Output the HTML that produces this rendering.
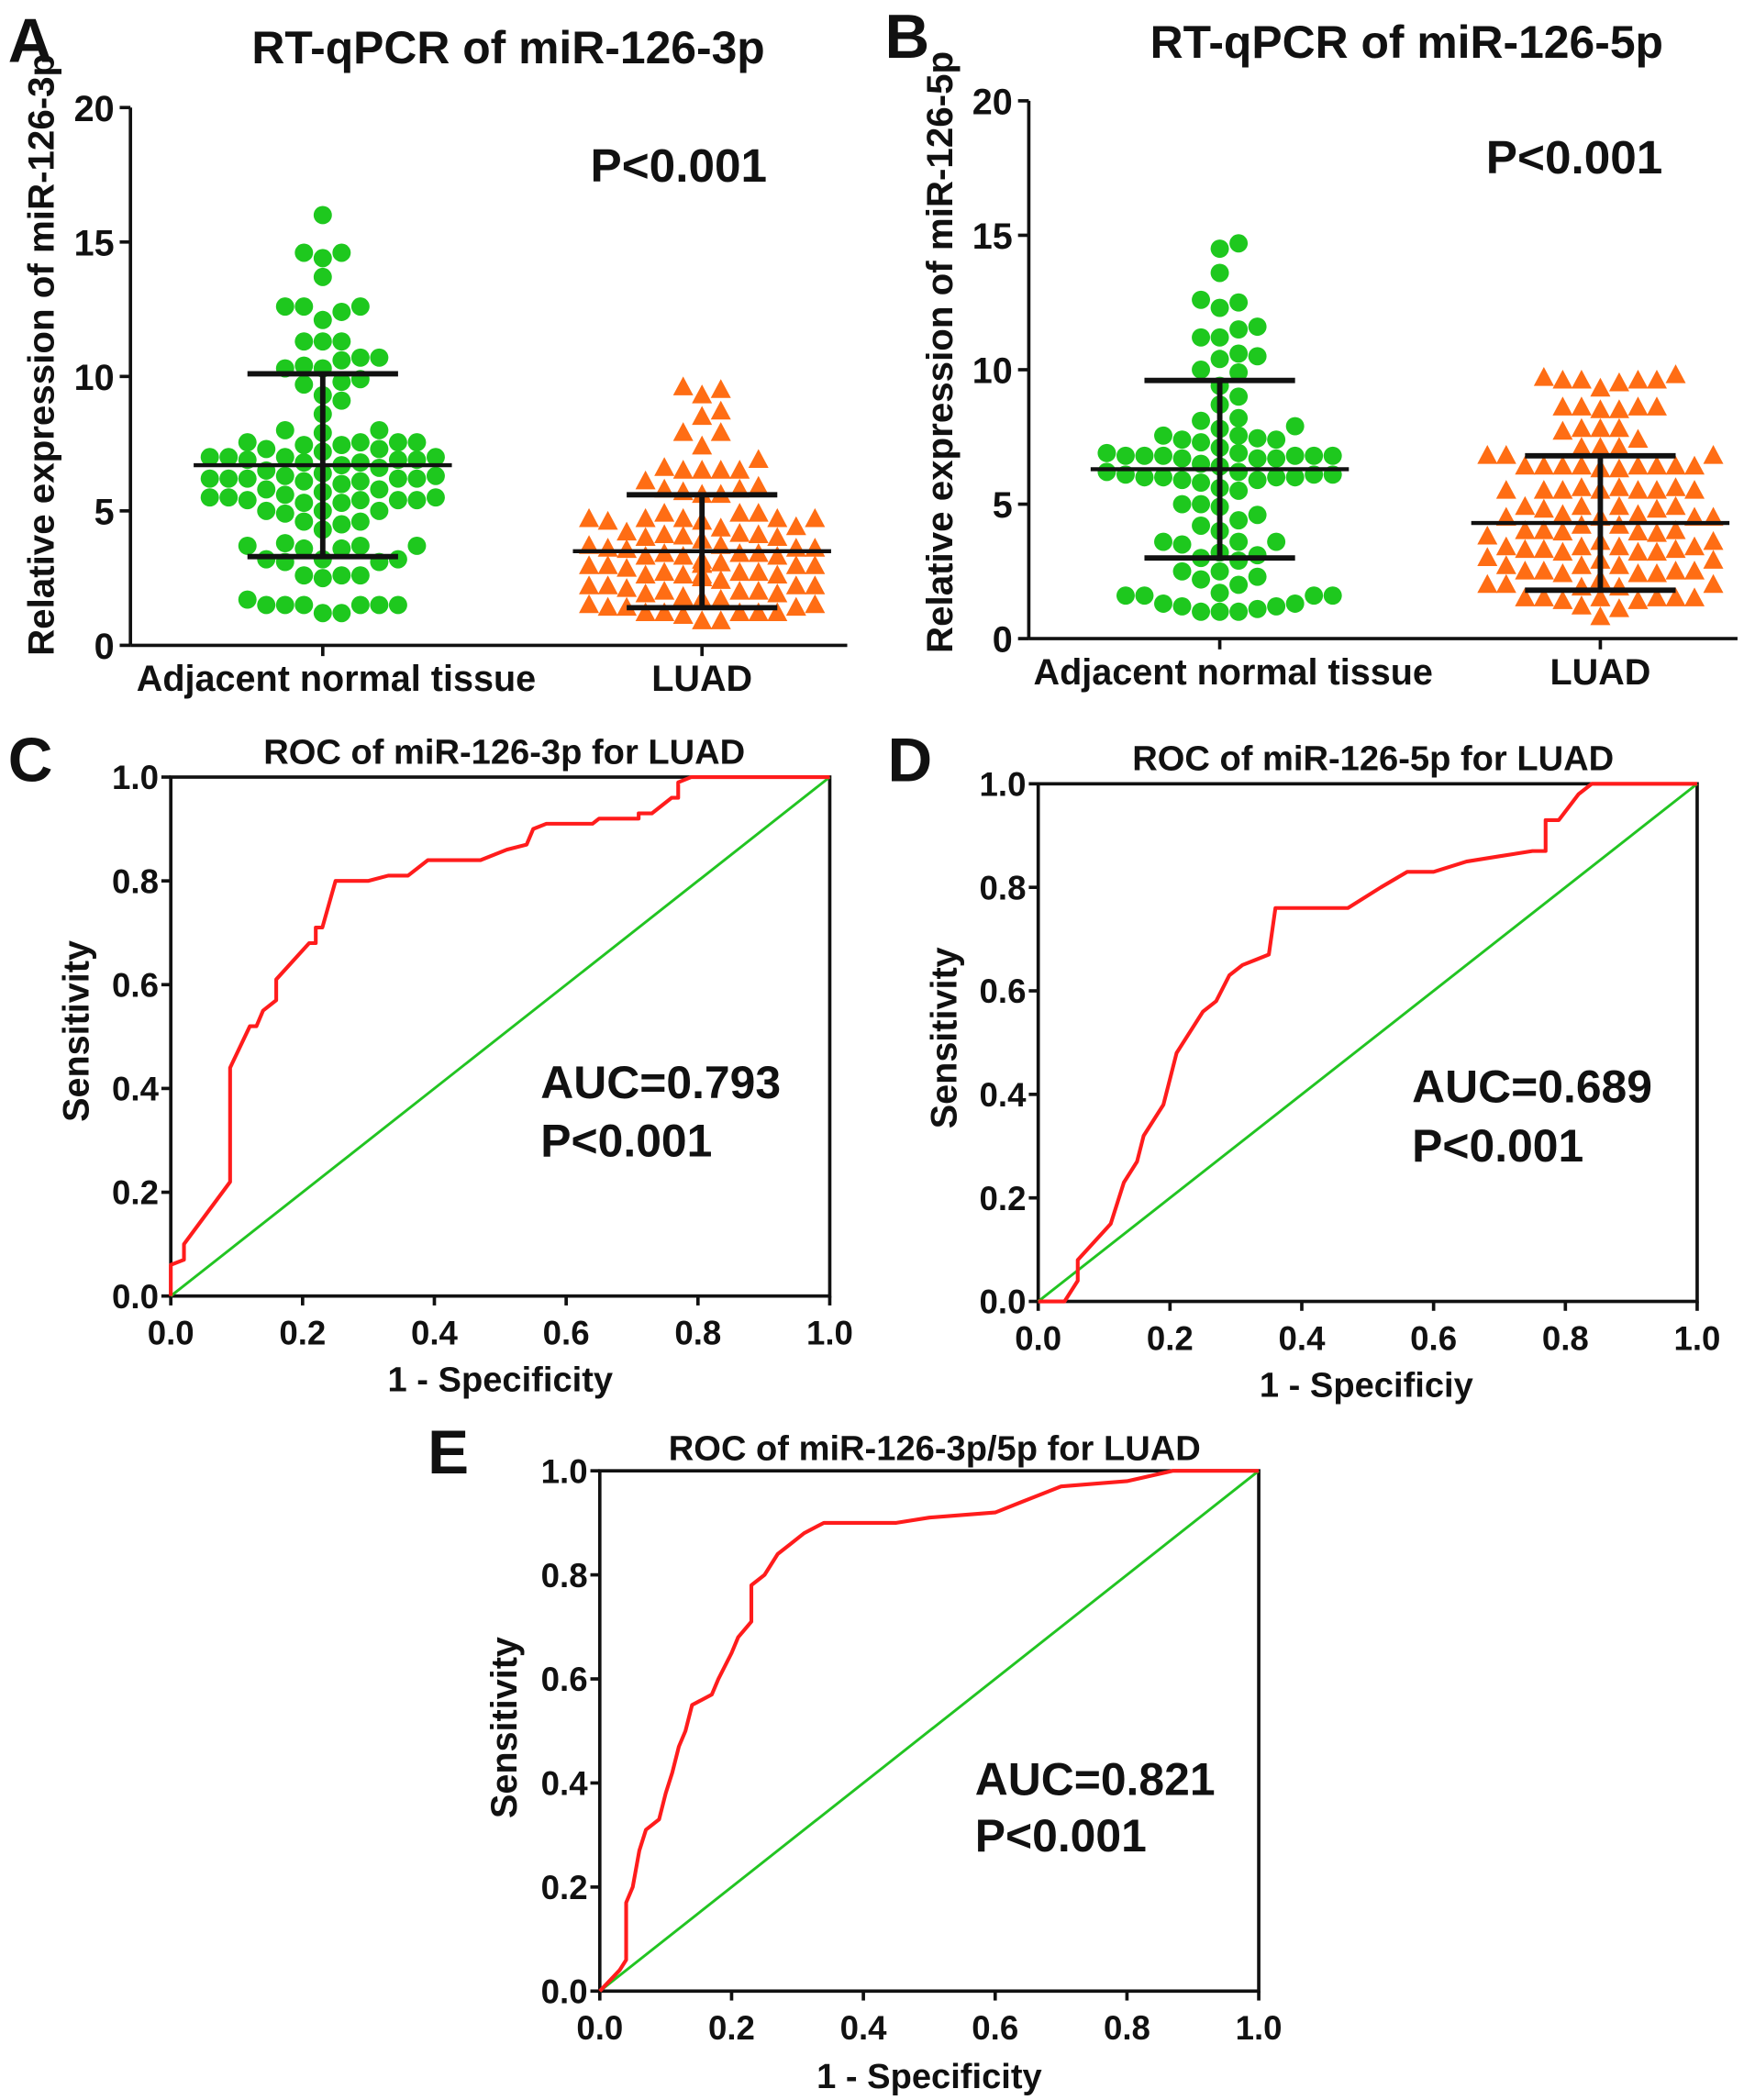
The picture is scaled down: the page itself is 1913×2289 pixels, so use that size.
<!DOCTYPE html>
<html><head><meta charset="utf-8"><style>
html,body{margin:0;padding:0;background:#fff;}
svg{display:block;}
text{font-family:"Liberation Sans",Arial,sans-serif;font-weight:bold;fill:#111;}
</style></head><body>
<svg id="fig" width="1913" height="2289" viewBox="0 0 1305 1562" preserveAspectRatio="none" xmlns="http://www.w3.org/2000/svg">
<rect width="1305" height="1562" fill="#fff"/>
<text x="6" y="46" font-size="46">A</text>
<text x="658" y="43" font-size="46">B</text>
<text x="6" y="581" font-size="46">C</text>
<text x="660" y="581" font-size="46">D</text>
<text x="318" y="1096" font-size="46">E</text>
<text x="378" y="47" font-size="34" text-anchor="middle">RT-qPCR of miR-126-3p</text>
<text x="1046" y="43" font-size="34" text-anchor="middle">RT-qPCR of miR-126-5p</text>
<text x="375" y="568" font-size="26" text-anchor="middle">ROC of miR-126-3p for LUAD</text>
<text x="1021" y="573" font-size="26" text-anchor="middle">ROC of miR-126-5p for LUAD</text>
<text x="695" y="1086" font-size="26" text-anchor="middle">ROC of miR-126-3p/5p for LUAD</text>
<text x="439" y="135" font-size="35">P&lt;0.001</text>
<text x="1105" y="129" font-size="35">P&lt;0.001</text>
<text x="402" y="817" font-size="34">AUC=0.793</text>
<text x="402" y="860" font-size="34">P&lt;0.001</text>
<text x="1050" y="820" font-size="34">AUC=0.689</text>
<text x="1050" y="864" font-size="34">P&lt;0.001</text>
<text x="725" y="1335" font-size="34">AUC=0.821</text>
<text x="725" y="1377" font-size="34">P&lt;0.001</text>
<text transform="translate(40,264) rotate(-90)" font-size="27.5" text-anchor="middle">Relative expression of miR-126-3p</text>
<text transform="translate(708,262) rotate(-90)" font-size="27.5" text-anchor="middle">Relative expression of miR-126-5p</text>
<text transform="translate(66,767) rotate(-90)" font-size="27" text-anchor="middle">Sensitivity</text>
<text transform="translate(711,772) rotate(-90)" font-size="27" text-anchor="middle">Sensitivity</text>
<text transform="translate(384,1285) rotate(-90)" font-size="27" text-anchor="middle">Sensitivity</text>
<text x="372" y="1035" font-size="26" text-anchor="middle">1 - Specificity</text>
<text x="1016" y="1039" font-size="26" text-anchor="middle">1 - Specificiy</text>
<text x="691" y="1553" font-size="26" text-anchor="middle">1 - Specificity</text>
</svg>
<script>
// ---- data ----
const catLabels = ["Adjacent normal tissue","LUAD"];
const yTicksScatter = [0,5,10,15,20];
const rocTicks = [0.0,0.2,0.4,0.6,0.8,1.0];
const rocTickLabels = ["0.0","0.2","0.4","0.6","0.8","1.0"];

const a_normal = [16,14.6,14.6,14.4,13.7,12.6,12.6,12.6,12.4,12.1,11.3,11.3,11.3,10.7,10.6,10.7,10.4,10.3,10.3,9.8,9.9,9.7,9.3,9.1,8.6,8.0,7.9,8.0,
 7.0,7.0,6.9,6.9,7.0,6.8,6.8,6.7,6.7,6.9,6.6,6.6,6.8,7.0,6.9,6.7,6.6,6.8,
 6.3,6.2,6.1,6.0,6.0,6.3,6.2,6.0,6.1,5.9,5.9,6.2,5.8,6.0,5.8,
 5.5,5.4,5.4,5.6,5.5,5.4,5.3,5.5,5.6,5.3,5.4,5.5,
 5.0,5.0,4.9,5.0,4.6,4.6,4.5,4.3,3.7,3.7,3.6,3.7,3.6,3.8,3.2,3.2,3.1,3.2,3.1,2.6,2.6,2.5,2.6,1.7,1.5,1.5,1.5,1.5,1.5,1.5,1.2,1.2];
const a_luad = [9.6,9.5,9.3,8.7,8.5,7.9,7.9,7.4,6.9,6.6,6.5,6.5,6.5,6.5,6.1,5.8,5.7,5.9,5.8,5.6,5.6,
 4.7,4.7,4.7,4.7,4.7,4.6,4.7,4.7,4.6,4.7,4.0,
 3.8,3.7,3.6,3.5,3.4,3.8,3.6,3.5,3.4,3.7,3.5,3.4,3.6,3.5,
 3.0,3.0,3.0,2.9,3.0,3.0,2.9,3.0,3.0,2.9,
 2.6,2.5,2.4,2.3,2.2,2.6,2.5,2.4,2.3,2.2,2.6,2.5,2.4,2.3,2.2,2.5,2.4,2.3,2.2,2.1,
 1.8,1.7,1.6,1.5,1.4,1.8,1.7,1.6,1.5,1.4,1.8,1.7,1.6,1.5,1.4,1.8,1.6,1.5,
 1.2,1.2,1.2,1.1,1.2,1.2,0.9,0.9];
const b_normal = [14.7,14.5,13.6,12.6,12.5,12.3,11.6,11.5,11.2,11.2,10.6,10.5,10.4,10.0,9.9,9.4,9.0,8.7,8.2,8.1,7.8,7.9,
 7.0,7.0,6.9,6.9,7.0,6.8,6.8,6.7,6.9,6.8,7.0,6.9,6.8,6.7,6.9,6.8,6.7,6.8,
 6.2,6.1,6.0,6.3,6.2,6.0,6.1,5.9,6.0,6.2,5.9,6.1,5.8,6.0,
 5.6,5.5,5.0,5.0,4.9,4.6,4.4,4.2,4.0,3.6,3.6,3.6,3.5,3.1,3.0,3.2,2.9,2.5,2.5,2.3,2.2,2.0,
 1.7,1.6,1.6,1.6,1.6,1.3,1.3,1.2,1.2,1.1,1.0,1.0,1.0];
const b_luad = [9.8,9.7,9.6,9.6,9.6,9.6,9.5,9.3,8.6,8.6,8.6,8.5,8.5,8.6,7.8,7.8,7.8,7.7,7.4,
 6.9,6.9,6.8,6.8,6.9,6.8,6.4,6.4,6.4,6.4,6.3,6.4,6.4,6.3,6.4,6.4,
 5.5,5.5,5.6,5.5,5.5,5.6,5.5,5.5,5.6,5.5,
 4.9,4.9,4.8,4.9,4.9,4.8,4.5,4.5,4.6,4.5,4.5,4.6,
 4.0,4.0,4.0,3.9,4.0,4.0,3.4,3.4,3.4,3.3,3.4,3.4,3.3,3.4,3.4,3.3,3.4,3.4,
 3.0,3.0,2.9,3.0,3.0,2.9,2.5,2.5,2.4,2.5,2.5,2.4,2.5,2.5,2.4,2.5,
 2.0,2.0,1.9,2.0,2.0,1.9,1.5,1.5,1.4,1.5,1.5,1.4,1.5,1.5,1.2,1.1,0.8];
// mean, lower SD, upper SD
const a_normalStats = [6.7,3.3,10.1];
const a_luadStats = [3.5,1.4,5.6];
const b_normalStats = [6.3,3.0,9.6];
const b_luadStats = [4.3,1.8,6.8];

const c_fpr = [0,0,0.02,0.02,0.09,0.09,0.12,0.13,0.14,0.16,0.16,0.21,0.22,0.22,0.23,0.25,0.30,0.33,0.36,0.39,0.47,0.51,0.54,0.55,0.57,0.64,0.65,0.71,0.71,0.73,0.76,0.77,0.77,0.79,1];
const c_tpr = [0,0.06,0.07,0.10,0.22,0.44,0.52,0.52,0.55,0.57,0.61,0.68,0.68,0.71,0.71,0.80,0.80,0.81,0.81,0.84,0.84,0.86,0.87,0.90,0.91,0.91,0.92,0.92,0.93,0.93,0.96,0.96,0.99,1,1];
const d_fpr = [0,0.04,0.06,0.06,0.11,0.13,0.15,0.16,0.19,0.20,0.21,0.25,0.27,0.29,0.31,0.33,0.35,0.36,0.47,0.52,0.56,0.60,0.65,0.70,0.75,0.77,0.77,0.79,0.82,0.84,1];
const d_tpr = [0,0,0.04,0.08,0.15,0.23,0.27,0.32,0.38,0.43,0.48,0.56,0.58,0.63,0.65,0.66,0.67,0.76,0.76,0.80,0.83,0.83,0.85,0.86,0.87,0.87,0.93,0.93,0.98,1,1];
const e_fpr = [0,0.03,0.04,0.04,0.05,0.06,0.07,0.09,0.10,0.11,0.12,0.13,0.14,0.17,0.18,0.20,0.21,0.23,0.23,0.25,0.27,0.29,0.31,0.34,0.45,0.50,0.60,0.64,0.70,0.80,0.87,1];
const e_tpr = [0,0.04,0.06,0.17,0.20,0.27,0.31,0.33,0.38,0.42,0.47,0.50,0.55,0.57,0.60,0.65,0.68,0.71,0.78,0.80,0.84,0.86,0.88,0.90,0.90,0.91,0.92,0.94,0.97,0.98,1,1];

// ---- drawing ----
const NS="http://www.w3.org/2000/svg";
const svg=document.getElementById('fig');
function mk(tag,attrs){const e=document.createElementNS(NS,tag);for(const k in attrs)e.setAttribute(k,attrs[k]);svg.appendChild(e);return e;}

function scatterPanel(p,ox,y0,y20,xEnd,cx1,cx2,normal,luad,nStats,lStats){
  const ys=v=>y0+(y20-y0)*v/20;
  let e=mk('line',{x1:ox,y1:y20,x2:ox,y2:y0,stroke:'#111','stroke-width':2.5});
  
  
  e=mk('line',{x1:ox,y1:y0,x2:xEnd,y2:y0,stroke:'#111','stroke-width':2.5});
  
  
  yTicksScatter.forEach(t=>{
    let l=mk('line',{x1:ox-8,y1:ys(t),x2:ox,y2:ys(t),stroke:'#111','stroke-width':2.5});
    
    
    let tx=mk('text',{x:ox-12,y:ys(t)+10,'font-size':27,'text-anchor':'end'});tx.textContent=t;
    
    
  });
  [cx1,cx2].forEach((cx,i)=>{
    let l=mk('line',{x1:cx,y1:y0,x2:cx,y2:y0+8,stroke:'#111','stroke-width':2.5});
    
    
    let tx=mk('text',{x:i==0?cx+10:cx,y:y0+34,'font-size':27,'text-anchor':'middle'});tx.textContent=catLabels[i];
    
    
  });
  function swarm(vals,cx,kind){
    const d=14, half=95, placed=[];
    vals.slice().sort((a,b)=>a-b).forEach(v=>{
      const yv=ys(v);let x=cx,y=yv,found=false;
      const dys=[0,-4,4,-8,8,-11,11];
      for(const dy of dys){
        for(let k=0;k<30&&!found;k++){
          const off=(k%2?1:-1)*Math.ceil(k/2)*d;
          if(Math.abs(off)>half)break;
          const tx=cx+off,ty=yv+dy;
          if(!placed.some(q=>Math.hypot(q[0]-tx,q[1]-ty)<d*0.9)){x=tx;y=ty;found=true;}
        }
        if(found)break;
      }
      placed.push([x,y]);
      let m;
      if(kind==='dot'){m=mk('circle',{cx:x,cy:y,r:6.8,fill:'#1ec81e'});}
      else{m=mk('polygon',{points:`${x},${y-8} ${x-7.5},${y+6} ${x+7.5},${y+6}`,fill:'#ff6d14'});}
      
    });
  }
  swarm(normal,cx1,'dot');swarm(luad,cx2,'tri');
  function errbar(cx,s,name){
    const w=96,c=56;
    let l=mk('line',{x1:cx-w,y1:ys(s[0]),x2:cx+w,y2:ys(s[0]),stroke:'#111','stroke-width':3});
    
    
    l=mk('line',{x1:cx,y1:ys(s[1]),x2:cx,y2:ys(s[2]),stroke:'#111','stroke-width':4});
    
    
    [s[1],s[2]].forEach(v=>{
      let c2=mk('line',{x1:cx-c,y1:ys(v),x2:cx+c,y2:ys(v),stroke:'#111','stroke-width':4});
      
      
    });
  }
  errbar(cx1,nStats,'normal-'+p);errbar(cx2,lStats,'luad-'+p);
}
scatterPanel('a',97,480,80,630,240,522,a_normal,a_luad,a_normalStats,a_luadStats);
scatterPanel('b',765,475,75,1292,907,1190,b_normal,b_luad,b_normalStats,b_luadStats);

function rocPanel(p,x0,x1,yTop,yBot,fpr,tpr){
  const xs=v=>x0+(x1-x0)*v, ys=v=>yBot-(yBot-yTop)*v;
  let e=mk('rect',{x:x0,y:yTop,width:x1-x0,height:yBot-yTop,fill:'none',stroke:'#111','stroke-width':2.5});
  
  
  rocTicks.forEach((t,i)=>{
    let l=mk('line',{x1:x0-7,y1:ys(t),x2:x0,y2:ys(t),stroke:'#111','stroke-width':2.5});
    
    
    let tx=mk('text',{x:x0-9,y:ys(t)+9,'font-size':25,'text-anchor':'end'});tx.textContent=rocTickLabels[i];
    
    
    l=mk('line',{x1:xs(t),y1:yBot,x2:xs(t),y2:yBot+7,stroke:'#111','stroke-width':2.5});
    
    
    tx=mk('text',{x:xs(t),y:yBot+36,'font-size':25,'text-anchor':'middle'});tx.textContent=rocTickLabels[i];
    
    
  });
  let dg=mk('line',{x1:xs(0),y1:ys(0),x2:xs(1),y2:ys(1),stroke:'#22c422','stroke-width':2});
  
  
  const pts=fpr.map((f,i)=>xs(f).toFixed(1)+','+ys(tpr[i]).toFixed(1)).join(' ');
  let pl=mk('polyline',{points:pts,fill:'none',stroke:'#ff1c1c','stroke-width':2.8,'stroke-linejoin':'round'});
  
  
}
rocPanel('c',127,617,578,964,c_fpr,c_tpr);
rocPanel('d',772,1262,583,968,d_fpr,d_tpr);
rocPanel('e',446,936,1094,1481,e_fpr,e_tpr);
</script>
</body></html>
